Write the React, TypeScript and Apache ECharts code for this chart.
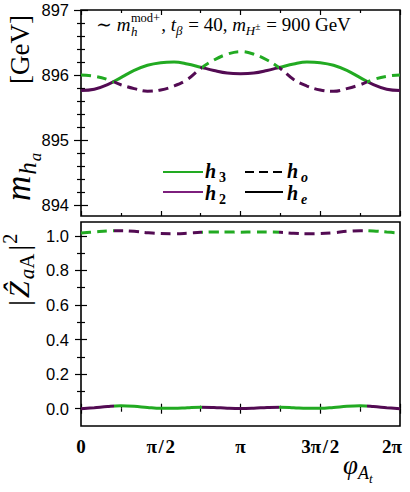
import React, { useEffect, useRef } from "react";
import * as echarts from "echarts";

// ---- data ----
const PHI_DEG = [0, 15, 30, 45, 60, 75, 90, 105, 120, 135, 150, 165, 180, 195, 210, 225, 240, 255, 270, 285, 300, 315, 330, 345, 360];
// CP-even state mass (solid)
const MASS_EVEN = [895.76, 895.78, 895.85, 895.96, 896.07, 896.15, 896.19, 896.2, 896.17, 896.12, 896.07, 896.03, 896.02, 896.03, 896.07, 896.12, 896.17, 896.2, 896.19, 896.15, 896.07, 895.96, 895.85, 895.78, 895.76];
// CP-odd state mass (dashed)
const MASS_ODD = [896.0, 895.98, 895.93, 895.85, 895.79, 895.75, 895.77, 895.83, 895.93, 896.1, 896.23, 896.32, 896.36, 896.32, 896.23, 896.1, 895.93, 895.83, 895.77, 895.75, 895.79, 895.85, 895.93, 895.98, 896.0];
// |Z_aA|^2 of the even (solid) and odd (dashed) states
const ZA_EVEN = [0.0, 0.006, 0.013, 0.017, 0.014, 0.007, 0.002, 0.002, 0.006, 0.009, 0.007, 0.003, 0.001, 0.003, 0.007, 0.009, 0.006, 0.002, 0.002, 0.007, 0.014, 0.017, 0.013, 0.006, 0.0];
const ZA_ODD = [1.016, 1.022, 1.028, 1.03, 1.026, 1.018, 1.013, 1.012, 1.015, 1.02, 1.022, 1.022, 1.021, 1.022, 1.022, 1.02, 1.015, 1.012, 1.013, 1.018, 1.026, 1.03, 1.028, 1.022, 1.016];
// level crossings (degrees) where h2/h3 labels swap
const CROSSING_DEG = [37, 136, 224, 323];

const X_MAJOR_DEG = [0, 90, 180, 270, 360];
const X_TICK_LABELS = ["0", "π\u200a/\u200a2", "π", "3π\u200a/\u200a2", "2π"];
const X_MINOR_DEG = [45, 135, 225, 315];
const MASS_LABELS = [894, 895, 896, 897];
const MASS_MINOR = [894.2, 894.4, 894.6, 894.8, 895.2, 895.4, 895.6, 895.8, 896.2, 896.4, 896.6, 896.8];
const Z_LABELS = [0, 0.2, 0.4, 0.6, 0.8, 1.0];
const Z_MINOR = [0.1, 0.3, 0.5, 0.7, 0.9];

const GREEN = "#22aa22";
const PURPLE = "#530b53";
const PURPLE_LEG = "#7d1f7d";
const SERIF = '"Liberation Serif", "DejaVu Serif", serif';
const SANS = '"Liberation Sans", Arial, sans-serif';

const rad = (d: number) => (d * Math.PI) / 180;

let _ctx: CanvasRenderingContext2D | null = null;
function measure(text: string, font: string) {
  if (!_ctx) _ctx = document.createElement("canvas").getContext("2d");
  _ctx!.font = font;
  return _ctx!.measureText(text).width;
}

// size: absolute px, dy: baseline shift in px, gap: extra advance in px
type Piece = { t: string; size: number; dy?: number; it?: boolean; b?: boolean; adv?: boolean; gap?: number; fam?: string };

function mathText(pieces: Piece[], x0: number, y0: number, fill = "#000") {
  const fontOf = (p: Piece) => `${p.it ? "italic " : ""}${p.b ? "bold " : ""}${p.size}px ${p.fam || SERIF}`;
  let x = x0;
  const out: any[] = [];
  for (const p of pieces) {
    const y = y0 + (p.dy ?? 0) - 0.34 * p.size;
    out.push({
      type: "text",
      x,
      y,
      silent: true,
      style: {
        text: p.t,
        fontSize: p.size,
        fontFamily: p.fam || SERIF,
        fontStyle: p.it ? "italic" : "normal",
        fontWeight: p.b ? "bold" : "normal",
        fill,
        align: "left",
        verticalAlign: "middle",
        textAlign: "left",
        textVerticalAlign: "middle",
      },
    });
    if (p.adv !== false) x += measure(p.t, fontOf(p)) + (p.gap ?? 0);
  }
  return out;
}

function piecesFor(colors: string[]) {
  const c = CROSSING_DEG.map(rad);
  return colors.map((color, i) => {
    if (i === 0) return { lt: c[0], color };
    if (i === colors.length - 1) return { gte: c[i - 1], color };
    return { gte: c[i - 1], lt: c[i], color };
  });
}

export default function App() {
  const ref = useRef<HTMLDivElement>(null);
  useEffect(() => {
    if (!ref.current) return;
    const chart = echarts.init(ref.current, null, { renderer: "svg" });

    const GRIDS = [
      { left: 81, top: 10, width: 319, height: 206 },
      { left: 81, top: 222, width: 319, height: 204 },
    ];
    const tickStyle = { color: "#000", width: 1.2 };

    const xFormatter = (v: number) => {
      const i = X_MAJOR_DEG.findIndex((d) => Math.abs(rad(d) - v) < 1e-6);
      if (i < 0) return "";
      return i === X_MAJOR_DEG.length - 1 ? `{r|${X_TICK_LABELS[i]}}` : X_TICK_LABELS[i];
    };

    const xAx = (g: number, pos: string, ticks: number[], len: number, labels: boolean) => ({
      type: "value",
      gridIndex: g,
      position: pos,
      min: 0,
      max: 2 * Math.PI,
      axisLine: { show: false },
      splitLine: { show: false },
      minorTick: { show: false },
      axisTick: { show: true, inside: true, length: len, customValues: ticks, lineStyle: tickStyle },
      axisLabel: labels
        ? {
            show: true,
            customValues: ticks,
            formatter: xFormatter,
            margin: 11,
            fontFamily: SERIF,
            fontWeight: "bold",
            fontSize: 19,
            color: "#000",
            rich: { r: { fontFamily: SERIF, fontWeight: "bold", fontSize: 19, color: "#000", padding: [0, 16, 0, 0] } },
          }
        : { show: false },
    });

    const yAx = (g: number, pos: string, min: number, max: number, ticks: number[], len: number, labels: boolean, fmt?: (v: number) => string) => ({
      type: "value",
      gridIndex: g,
      position: pos,
      min,
      max,
      axisLine: { show: false },
      splitLine: { show: false },
      minorTick: { show: false },
      axisTick: { show: true, inside: true, length: len, customValues: ticks, lineStyle: tickStyle },
      axisLabel: labels
        ? { show: true, customValues: ticks, formatter: fmt, margin: 12, fontFamily: SANS, fontSize: 16.5, color: "#000" }
        : { show: false },
    });

    const xMaj = X_MAJOR_DEG.map(rad);
    const xMin = X_MINOR_DEG.map(rad);
    const xAxes: any[] = [];
    [0, 1].forEach((g) => {
      xAxes.push(xAx(g, "bottom", xMaj, 5, g === 1));
      xAxes.push(xAx(g, "bottom", xMin, 3, false));
      xAxes.push(xAx(g, "top", xMaj, 5, false));
      xAxes.push(xAx(g, "top", xMin, 3, false));
    });
    const mMin = 893.83, mMax = 897;
    const zMin = -0.1, zMax = 1.08;
    const yAxes: any[] = [
      yAx(0, "left", mMin, mMax, MASS_LABELS, 7, true, (v) => String(Math.round(v))),
      yAx(0, "left", mMin, mMax, MASS_MINOR, 4, false),
      yAx(0, "right", mMin, mMax, MASS_LABELS, 7, false),
      yAx(0, "right", mMin, mMax, MASS_MINOR, 4, false),
      yAx(1, "left", zMin, zMax, Z_LABELS, 6, true, (v) => v.toFixed(1)),
      yAx(1, "left", zMin, zMax, Z_MINOR, 4, false),
      yAx(1, "right", zMin, zMax, Z_LABELS, 6, false),
      yAx(1, "right", zMin, zMax, Z_MINOR, 4, false),
    ];

    const phi = PHI_DEG.map(rad);
    const mk = (vals: number[]) => phi.map((p, i) => [p, vals[i]]);
    const DASH = [10, 6];
    const line = (xi: number, yi: number, vals: number[], dashed: boolean) => ({
      type: "line",
      xAxisIndex: xi,
      yAxisIndex: yi,
      data: mk(vals),
      smooth: 0.4,
      symbol: "none",
      showSymbol: false,
      lineStyle: { width: 3, type: dashed ? DASH : "solid" },
    });

    const g: any[] = [];
    // annotation
    g.push(
      ...mathText(
        [
          { t: "∼ ", size: 19 },
          { t: "m", it: true, size: 19, gap: 0.5 },
          { t: "h", it: true, size: 13, dy: 4.5, adv: false },
          { t: "mod+", size: 12.5, dy: -9, gap: 1 },
          { t: ", ", size: 19 },
          { t: "t", it: true, size: 19 },
          { t: "β", it: true, size: 13, dy: 4, gap: 1 },
          { t: " = 40, ", size: 19 },
          { t: "m", it: true, size: 19 },
          { t: "H", it: true, size: 13, dy: 4 },
          { t: "±", size: 9.5, dy: -1, gap: 1 },
          { t: " = 900 ", size: 19 },
          { t: "GeV", size: 19 },
        ],
        96,
        31
      )
    );
    // top y title (rotated), m_{h_a}
    g.push({
      type: "group",
      x: 30,
      y: 201,
      rotation: Math.PI / 2,
      children: mathText(
        [
          { t: "m", it: true, size: 35, gap: 1 },
          { t: "h", it: true, size: 25, dy: 6, gap: 1 },
          { t: "a", it: true, size: 17, dy: 11 },
        ],
        0,
        0
      ),
    });
    g.push({
      type: "group",
      x: 29,
      y: 84,
      rotation: Math.PI / 2,
      children: mathText([{ t: "[GeV]", size: 27 }], 0, 0),
    });
    // bottom y title (rotated)
    g.push({
      type: "group",
      x: 29,
      y: 306,
      rotation: Math.PI / 2,
      children: mathText(
        [
          { t: "|", size: 30, gap: 2 },
          { t: "Ẑ", it: true, size: 30, gap: 2 },
          { t: "a", it: true, size: 21, dy: 5 },
          { t: "A", size: 21, dy: 5, gap: 3 },
          { t: "|", size: 30, gap: 1 },
          { t: "2", size: 20, dy: -12 },
        ],
        0,
        0
      ),
    });
    // x axis name
    g.push(
      ...mathText(
        [
          { t: "φ", it: true, size: 27 },
          { t: "A", it: true, size: 18, dy: 5 },
          { t: "t", it: true, size: 13, dy: 9 },
        ],
        343,
        474
      )
    );
    // legend
    const legLine = (x1: number, x2: number, y: number, color: string, dash: boolean) => ({
      type: "line",
      silent: true,
      shape: { x1, y1: y, x2, y2: y },
      style: { stroke: color, lineWidth: 2, lineDash: dash ? [9, 5] : null },
    });
    g.push(legLine(163, 203, 172, GREEN, false));
    g.push(legLine(163, 203, 192, PURPLE_LEG, false));
    g.push(legLine(245, 283, 172, "#000", true));
    g.push(legLine(245, 283, 192, "#000", false));
    const legTxt = (x: number, y: number, sub: string) =>
      mathText(
        [
          { t: "h", it: true, b: true, size: 20, gap: 3 },
          { t: sub, it: !/\d/.test(sub), b: true, size: 14, dy: 4.5 },
        ],
        x,
        y
      );
    g.push(...legTxt(205, 178, "3"));
    g.push(...legTxt(205, 200, "2"));
    g.push(...legTxt(287, 178, "o"));
    g.push(...legTxt(287, 200, "e"));

    chart.setOption({
      animation: false,
      backgroundColor: "#fff",
      grid: GRIDS.map((gr) => ({ ...gr, show: true, borderColor: "#000", borderWidth: 1.6, backgroundColor: "transparent", containLabel: false })),
      xAxis: xAxes,
      yAxis: yAxes,
      visualMap: [
        { type: "piecewise", show: false, dimension: 0, seriesIndex: [0, 2], pieces: piecesFor([PURPLE, GREEN, PURPLE, GREEN, PURPLE]) },
        { type: "piecewise", show: false, dimension: 0, seriesIndex: [1, 3], pieces: piecesFor([GREEN, PURPLE, GREEN, PURPLE, GREEN]) },
      ],
      series: [
        line(0, 0, MASS_EVEN, false),
        line(0, 0, MASS_ODD, true),
        line(4, 4, ZA_EVEN, false),
        line(4, 4, ZA_ODD, true),
      ],
      graphic: { elements: g },
    });
    return () => chart.dispose();
  }, []);
  return <div ref={ref} style={{ position: "fixed", left: 0, top: 0, width: 410, height: 492, background: "#fff" }} />;
}
